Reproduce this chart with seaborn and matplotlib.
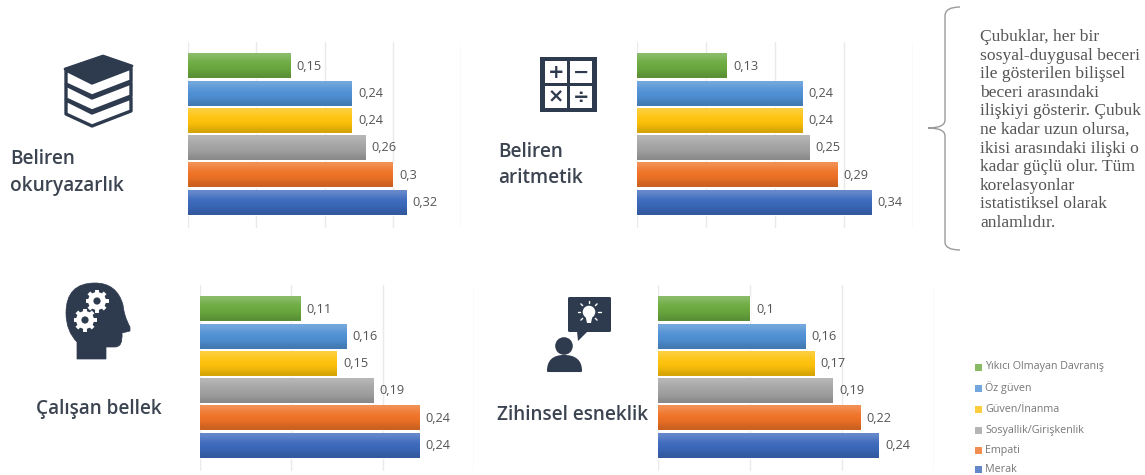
import numpy as np
import pandas as pd
import matplotlib.pyplot as plt
import seaborn as sns
from matplotlib.colors import to_rgb
from matplotlib.patches import Circle, FancyBboxPatch, PathPatch, Polygon, Rectangle
from matplotlib.path import Path

sns.set_theme(style="white")
plt.rcParams["font.family"] = ["Open Sans", "DejaVu Sans"]

W, H = 1145, 475

# top to bottom, same order as the legend
skills = ["Yıkıcı Olmayan Davranış", "Öz güven", "Güven/İnanma",
          "Sosyallik/Girişkenlik", "Empati", "Merak"]
colors = ["#6BAA3F", "#4F90D4", "#FDC20A", "#A3A3A3", "#EF7226", "#3C69BC"]

okuryazarlik = [0.15, 0.24, 0.24, 0.26, 0.30, 0.32]
aritmetik = [0.13, 0.24, 0.24, 0.25, 0.29, 0.34]
bellek = [0.11, 0.16, 0.15, 0.19, 0.24, 0.24]
esneklik = [0.10, 0.16, 0.17, 0.19, 0.22, 0.24]

note_lines = ["Çubuklar, her bir", "sosyal-duygusal beceri", "ile gösterilen bilişsel",
              "beceri arasındaki", "ilişkiyi gösterir. Çubuk", "ne kadar uzun olursa,",
              "ikisi arasındaki ilişki o", "kadar güçlü olur. Tüm", "korelasyonlar",
              "istatistiksel olarak", "anlamlıdır."]

DARK = "#2E3A4E"
TITLE = "#3B4450"

fig = plt.figure(figsize=(W / 100, H / 100), dpi=100)


def draw_panel(values, left, right, top, bottom, xmax):
    ax = fig.add_axes([left / W, 1 - bottom / H, (right - left) / W, (bottom - top) / H])
    df = pd.DataFrame({"skill": skills, "value": values})
    sns.barplot(data=df, x="value", y="skill", hue="skill", order=skills, hue_order=skills,
                palette=colors, dodge=False, legend=False, width=0.89, ax=ax)
    # office style shading on the bars
    for cont, col in zip(ax.containers, colors):
        base = np.array(to_rgb(col))
        shade = np.vstack([base + (1 - base) * 0.22, base + (1 - base) * 0.06, base, base * 0.96, base * 0.84])
        for bar in cont:
            x, y, w, h = bar.get_x(), bar.get_y(), bar.get_width(), bar.get_height()
            ax.imshow(shade[:, None, :], extent=(x, x + w, y + h, y), aspect="auto",
                      interpolation="bicubic", zorder=3)
        labels = [f"{v:g}".replace(".", ",") for v in cont.datavalues]
        ax.bar_label(cont, labels=labels, padding=4.5, fontsize=9.2, color="#555555", zorder=4)
    ax.set_xlim(0, xmax)
    ax.set_ylim(5.93, -0.88)
    ax.set_xticks(np.arange(0, xmax + 0.01, 0.1))
    ax.set_xticklabels([])
    ax.set_yticks([])
    ax.set_xlabel("")
    ax.set_ylabel("")
    ax.grid(axis="x", color="#EAEAEA", lw=1)
    ax.set_axisbelow(True)
    ax.patch.set_alpha(0)
    sns.despine(ax=ax, left=True, bottom=True)
    ax.tick_params(length=0)
    return ax


draw_panel(okuryazarlik, 188, 461, 42, 228, 0.4)
draw_panel(aritmetik, 637, 913, 42, 228, 0.4)
draw_panel(bellek, 200, 474, 285, 471, 0.3)
draw_panel(esneklik, 658, 934, 285, 471, 0.3)

# overlay in pixel coordinates for icons and text
ov = fig.add_axes([0, 0, 1, 1], zorder=-1)
ov.set_xlim(0, W)
ov.set_ylim(H, 0)
ov.axis("off")

title_kw = dict(fontsize=13.7, fontweight="semibold", color=TITLE, va="center", ha="left")
ov.text(10, 159, "Beliren", **title_kw)
ov.text(10, 186, "okuryazarlık", **title_kw)
ov.text(498, 152, "Beliren", **title_kw)
ov.text(498, 178, "aritmetik", **title_kw)
ov.text(36, 409, "Çalışan bellek", **title_kw)
ov.text(497, 415, "Zihinsel esneklik", **title_kw)

# note on the right
for i, line in enumerate(note_lines):
    ov.text(980, 37 + i * 18.6, line, fontsize=12.6, family="Liberation Serif",
            color="#555555", va="center", ha="left")

# brace
brace = Path([(960, 7), (945, 7), (945, 16), (945, 120), (945, 128), (928, 128),
              (945, 128), (945, 136), (945, 242), (945, 250), (960, 250)],
             [Path.MOVETO, Path.CURVE3, Path.CURVE3, Path.LINETO, Path.CURVE3, Path.CURVE3,
              Path.CURVE3, Path.CURVE3, Path.LINETO, Path.CURVE3, Path.CURVE3])
ov.add_patch(PathPatch(brace, fc="none", ec="#9A9A9A", lw=1))

# legend, squeezed a little so Merak stays inside the picture
for y, name, col in zip([367, 388, 409, 430, 450, 469], skills, colors):
    ov.add_patch(Rectangle((975, y - 3.5), 7, 7, fc=col, ec="none", alpha=0.8))
    ov.text(985, y, name, fontsize=7.75, color="#777777", va="center", ha="left")

# books icon
for d in [30, 15, 0]:
    ov.add_patch(Polygon([(66, 70 + d), (92, 83 + d), (131, 68 + d), (131, 81 + d), (92, 96 + d), (66, 84 + d)],
                         fc="white", ec=DARK, lw=2.4, joinstyle="round"))
ov.add_patch(Polygon([(65, 69), (103, 56), (132, 66), (92, 81)], fc=DARK, ec=DARK, lw=2, joinstyle="round"))

# calculator icon
ov.add_patch(Rectangle((540, 57), 57, 55, fc=DARK, ec="none"))
for cx, cy, sym in [(556, 72, "+"), (581, 72, "−"), (556, 97, "×"), (581, 97, "÷")]:
    ov.add_patch(Rectangle((cx - 11, cy - 11), 22, 22, fc="white", ec="none"))
    ov.text(cx, cy, sym, fontsize=14, fontweight="bold", family="DejaVu Sans", color=DARK,
            ha="center", va="center")

# head with gears
head = Path([(77, 359), (77, 342), (66, 331), (66, 313), (66, 283), (95, 283), (117, 283), (123, 305),
             (124, 316), (130, 327), (130, 331), (122, 333), (123, 347), (115, 347), (106, 347),
             (106, 359), (77, 359)],
            [Path.MOVETO, Path.LINETO, Path.CURVE3, Path.CURVE3, Path.CURVE3, Path.CURVE3, Path.CURVE3,
             Path.CURVE3, Path.CURVE3, Path.CURVE3, Path.LINETO, Path.LINETO, Path.CURVE3, Path.CURVE3,
             Path.LINETO, Path.LINETO, Path.CLOSEPOLY])
ov.add_patch(PathPatch(head, fc=DARK, ec=DARK, lw=0.5))
for gx, gy in [(97, 301), (85, 320)]:
    ang = np.deg2rad(np.arange(0, 360, 45))
    ov.plot(np.array([gx + 7 * np.cos(ang), gx + 11.5 * np.cos(ang)]),
            np.array([gy + 7 * np.sin(ang), gy + 11.5 * np.sin(ang)]), color="white", lw=2.8, solid_capstyle="butt")
    ov.add_patch(Circle((gx, gy), 9, fc="white", ec="none"))
    ov.add_patch(Circle((gx, gy), 3.6, fc=DARK, ec="none"))

# person with speech bubble
ov.add_patch(FancyBboxPatch((569, 298), 41, 33, boxstyle="round,pad=1,rounding_size=1.5", fc=DARK, ec="none"))
ov.add_patch(Polygon([(577, 331), (588, 331), (578, 341)], fc=DARK, ec="none"))
ov.add_patch(Circle((589, 312), 6.3, fc="white", ec="none"))
ov.add_patch(Polygon([(585.5, 316), (592.5, 316), (591, 323), (587, 323)], fc="white", ec="none"))
ang = np.deg2rad(np.arange(135, 415, 45))
ov.plot(np.array([589 + 9 * np.cos(ang), 589 + 11.5 * np.cos(ang)]),
        np.array([312 + 9 * np.sin(ang), 312 + 11.5 * np.sin(ang)]), color="white", lw=1)
ov.add_patch(Circle((564, 346), 8.8, fc=DARK, ec="none"))
body = Path([(548, 371), (548, 356), (564, 356), (581, 356), (581, 371), (548, 371)],
            [Path.MOVETO, Path.CURVE3, Path.CURVE3, Path.CURVE3, Path.CURVE3, Path.CLOSEPOLY])
ov.add_patch(PathPatch(body, fc=DARK, ec=DARK, lw=1.5, joinstyle="round"))

plt.savefig("out.png", dpi=100)
